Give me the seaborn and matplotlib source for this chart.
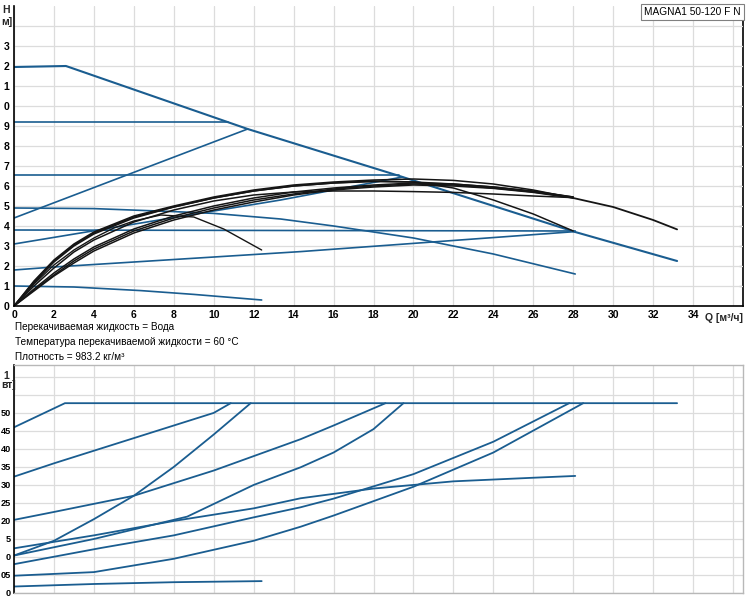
import matplotlib
matplotlib.use("Agg")
import matplotlib.pyplot as plt
import seaborn as sns

sns.set_theme(style="white")
plt.rcParams['font.family'] = ['Liberation Sans', 'DejaVu Sans']

# ---------------- data: H(Q) chart ----------------
q_maxcurve = [0, 2.6, 11.7, 19.3, 28.1, 33.2]
h_maxcurve = [11.95, 12.0, 8.85, 6.5, 3.7, 2.25]

q_cp3 = [0, 10.7]
h_cp3 = [9.2, 9.2]
q_cp2 = [0, 19.3]
h_cp2 = [6.55, 6.55]
q_cp1 = [0, 28.1]
h_cp1 = [3.8, 3.75]

q_pp3 = [0, 11.7]
h_pp3 = [4.4, 8.85]
q_pp2 = [0, 6.35, 13.35, 19.45]
h_pp2 = [3.1, 4.15, 5.3, 6.45]
q_pp1 = [0, 2, 14.35, 28.1]
h_pp1 = [1.8, 1.95, 2.72, 3.72]

q_cc = [0, 4, 8, 10, 13.35, 16, 20, 24, 28.1]
h_cc = [4.9, 4.87, 4.72, 4.63, 4.35, 4.0, 3.4, 2.6, 1.6]
q_min = [0, 3, 6.35, 9, 12.4]
h_min = [1.0, 0.95, 0.77, 0.58, 0.3]

# black performance curves
q_blk = [0, 1, 2, 3, 4, 6, 8, 10, 12, 14, 16, 18, 20, 22, 24, 26, 28]
h_blk1 = [0, 1.25, 2.3, 3.1, 3.7, 4.5, 5.0, 5.45, 5.8, 6.05, 6.2, 6.3, 6.35, 6.28, 6.1, 5.8, 5.4]
h_blk2 = [0, 1.2, 2.25, 3.05, 3.65, 4.45, 4.95, 5.4, 5.75, 6.0, 6.15, 6.22, 6.2, 6.1, 5.95, 5.72, 5.45]
h_blk3 = [0, 1.15, 2.2, 3.0, 3.6, 4.4, 4.95, 5.4, 5.75, 6.0, 6.15, 6.25, 6.2, 5.9, 5.3, 4.6, 3.75]
h_blk4 = [0, 1.0, 1.9, 2.7, 3.3, 4.2, 4.8, 5.25, 5.55, 5.7, 5.75, 5.75, 5.72, 5.68, 5.6, 5.5, 5.42]
h_blk5 = [0, 0.85, 1.65, 2.35, 2.95, 3.85, 4.5, 5.0, 5.4, 5.7, 5.9, 6.05, 6.15, 6.1, 5.95, 5.75, 5.45]
h_blk6 = [0, 0.8, 1.55, 2.25, 2.85, 3.75, 4.4, 4.9, 5.3, 5.6, 5.85, 6.0, 6.1, 6.05, 5.9, 5.7, 5.42]
h_blk7 = [0, 0.75, 1.5, 2.15, 2.75, 3.65, 4.3, 4.8, 5.2, 5.55, 5.8, 5.95, 6.05, 6.0, 5.88, 5.68, 5.4]
q_blk_ext = [28, 30, 32, 33.2]
h_blk_ext = [5.4, 4.95, 4.3, 3.83]
q_blk_short = [0, 1, 2, 3, 4, 5, 6, 7.35, 9, 10.5, 12.4]
h_blk_short = [0, 1.1, 2.05, 2.8, 3.4, 3.9, 4.25, 4.55, 4.45, 3.85, 2.8]

# ---------------- data: P1(Q) chart ----------------
q_pmax = [0, 2.55, 33.2]
p_pmax = [0.46, 0.527, 0.527]
q_p1 = [0, 2, 4, 6, 8, 10, 10.85]
p_p1 = [0.323, 0.36, 0.395, 0.43, 0.465, 0.5, 0.527]
q_p2 = [0, 2, 4, 6, 8, 10, 11.85]
p_p2 = [0.104, 0.145, 0.205, 0.27, 0.35, 0.44, 0.527]
q_p3 = [0, 2, 6, 10, 14.35, 16, 18.6]
p_p3 = [0.203, 0.225, 0.27, 0.34, 0.427, 0.465, 0.527]
q_p4 = [0, 4, 8.67, 12, 14.35, 16, 18, 19.5]
p_p4 = [0.104, 0.15, 0.212, 0.3, 0.349, 0.39, 0.455, 0.527]
q_p5 = [0, 4, 8, 12, 14.35, 18, 22, 26, 28.1]
p_p5 = [0.124, 0.16, 0.2, 0.235, 0.263, 0.29, 0.31, 0.32, 0.325]
q_p6 = [0, 4.35, 8, 12, 14.35, 16, 20, 24, 27.8]
p_p6 = [0.08, 0.125, 0.16, 0.21, 0.238, 0.262, 0.33, 0.42, 0.527]
q_p7 = [0, 4, 8, 12, 14.35, 16, 20, 24, 28.5]
p_p7 = [0.048, 0.058, 0.095, 0.145, 0.184, 0.215, 0.295, 0.39, 0.527]
q_p8 = [0, 4, 8, 12.4]
p_p8 = [0.018, 0.025, 0.03, 0.033]

# tick labels as they appear (the picture is cropped at its left edge)
x_ticks = list(range(0, 38, 2))
x_labels = [str(v) for v in range(0, 36, 2)] + [""]
h_ticks = list(range(0, 15))
h_labels = ["0", "1", "2", "3", "4", "5", "6", "7", "8", "9", "0", "1", "2", "3", ""]
p_ticks = [i * 0.05 for i in range(13)]
p_labels = ["0", "05", "0", "5", "20", "25", "30", "35", "40", "45", "50", "", ""]
h_axis_name = ["H", "м]"]
p_axis_name = ["1", "вт]"]
q_axis_name = "Q [м³/ч]"

fluid_text = ["Перекачиваемая жидкость = Вода",
              "Температура перекачиваемой жидкости = 60 °C",
              "Плотность = 983.2 кг/м³"]
model_label = "MAGNA1 50-120 F N"

BLUE = "#1a5d90"
BLACK = "#151515"
GRID = "#dcdcdc"

W, H = 750, 600
fig = plt.figure(figsize=(7.5, 6), dpi=100)
fig.patch.set_facecolor("white")

def px(x0, y0, x1, y1):
    return [x0 / W, 1 - y1 / H, (x1 - x0) / W, (y1 - y0) / H]

ax1 = fig.add_axes(px(14, 6, 743, 306))
ax2 = fig.add_axes(px(14, 365, 743, 593))

def line(ax, q, v, color, lw):
    sns.lineplot(x=q, y=v, ax=ax, color=color, linewidth=lw, sort=False,
                 estimator=None, legend=False)

# H chart
blue_sets = [(q_maxcurve, h_maxcurve, 1.5), (q_cp3, h_cp3, 1.2), (q_cp2, h_cp2, 1.2),
             (q_cp1, h_cp1, 1.2), (q_pp3, h_pp3, 1.2), (q_pp2, h_pp2, 1.2),
             (q_pp1, h_pp1, 1.2), (q_cc, h_cc, 1.2), (q_min, h_min, 1.2)]
for q, h, lw in blue_sets:
    line(ax1, q, h, BLUE, lw)
for h in [h_blk1, h_blk2, h_blk3, h_blk4, h_blk5, h_blk6, h_blk7]:
    line(ax1, q_blk, h, BLACK, 1.1)
line(ax1, q_blk_ext, h_blk_ext, BLACK, 1.3)
line(ax1, q_blk_short, h_blk_short, BLACK, 1.0)

# P chart
for q, p in [(q_pmax, p_pmax), (q_p1, p_p1), (q_p2, p_p2), (q_p3, p_p3), (q_p4, p_p4),
             (q_p5, p_p5), (q_p6, p_p6), (q_p7, p_p7), (q_p8, p_p8)]:
    line(ax2, q, p, BLUE, 1.3)

for ax in (ax1, ax2):
    ax.set_xlim(0, 36.5)
    ax.set_xticks(x_ticks)
    ax.grid(True, color=GRID, linewidth=0.9)
    ax.set_axisbelow(True)
    ax.set_xlabel("")
    ax.set_ylabel("")
    ax.tick_params(axis="both", which="both", length=2.2, width=0.8, pad=1.0,
                   labelsize=7.5, colors="black", direction="out")
    ax.set_facecolor("white")

ax1.set_ylim(0, 15)
ax1.set_yticks(h_ticks)
ax1.set_yticklabels(h_labels, fontweight="bold")
ax1.set_xticklabels(x_labels, fontweight="bold")
ax1.spines["top"].set_visible(False)
ax1.spines["right"].set_visible(False)
for s in ["left", "bottom"]:
    ax1.spines[s].set_color("black")
    ax1.spines[s].set_linewidth(1.2)

# right-hand axis with inward ticks
sec = ax1.secondary_yaxis("right")
sec.set_yticks(list(range(1, 11)))
sec.set_yticklabels([])
sec.tick_params(direction="in", length=3, width=0.8, colors="black")
sec.spines["right"].set_color("black")
sec.spines["right"].set_linewidth(1.2)
sec.spines["right"].set_bounds(0, 14.3)

ax1.text(34.6, -0.6, q_axis_name, fontsize=7.5, fontweight="bold", ha="left", va="center",
         transform=ax1.transData, clip_on=False)
fig.text(2 / W, 1 - 10 / H, h_axis_name[0], fontsize=7.5, fontweight="bold", ha="left", va="center")
fig.text(1 / W, 1 - 22 / H, h_axis_name[1], fontsize=7.5, fontweight="bold", ha="left", va="center")
ax1.text(0.997, 0.997, model_label, transform=ax1.transAxes, ha="right", va="top",
         fontsize=7.3, color="black",
         bbox=dict(boxstyle="square,pad=0.3", facecolor="white", edgecolor="#808080", linewidth=0.8))

ax2.set_ylim(0, 0.633)
ax2.set_yticks(p_ticks)
ax2.set_yticklabels(p_labels, fontweight="bold")
ax2.tick_params(axis="y", labelsize=6.6, pad=0.3, length=2.0)
ax2.set_xticklabels([])
ax2.tick_params(axis="x", length=0)
ax2.spines["left"].set_color("black")
ax2.spines["left"].set_linewidth(1.2)
for s in ["top", "right", "bottom"]:
    ax2.spines[s].set_color("#b8b8b8")
    ax2.spines[s].set_linewidth(1.0)
fig.text(9 / W, 1 - 376 / H, p_axis_name[0], fontsize=7.5, fontweight="bold", ha="right", va="center")
fig.text(1 / W, 1 - 385 / H, p_axis_name[1], fontsize=7.5, fontweight="bold", ha="left", va="center")

for i, t in enumerate(fluid_text):
    fig.text(15 / W, 1 - (327 + 15 * i) / H, t, fontsize=7.2, ha="left", va="center", color="black")

fig.savefig("out.png", dpi=100, facecolor="white")
